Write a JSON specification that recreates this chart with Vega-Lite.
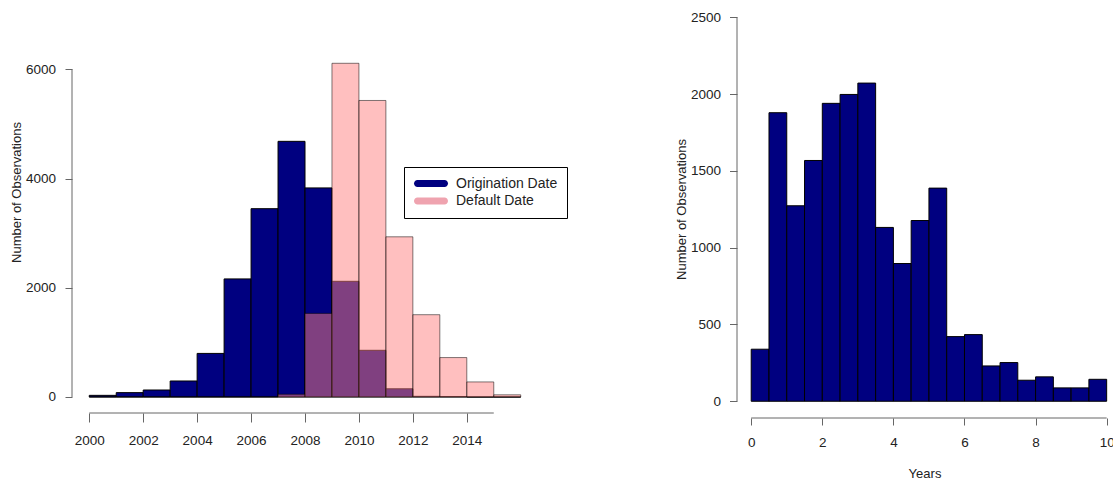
{
  "$schema": "https://vega.github.io/schema/vega-lite/v6.json",
  "padding": {"left": 10, "top": 2, "right": 0, "bottom": 0},
  "background": "white",
  "spacing": 199,
  "bounds": "flush",
  "config": {
    "view": {"stroke": null},
    "axis": {
      "grid": false,
      "domain": false,
      "labelFont": "Liberation Sans",
      "labelFontSize": 13.5,
      "labelColor": "#222222",
      "tickColor": "#666666",
      "titleFont": "Liberation Sans",
      "titleFontSize": 13,
      "titleFontWeight": "normal",
      "titleColor": "#222222",
      "labelFlush": false,
      "labelOverlap": false
    }
  },
  "resolve": {"scale": {"x": "independent", "y": "independent", "color": "independent"}},
  "datasets": {
    "dates": [
      {"series": "Origination Date", "start": 2000, "end": 2001, "count": 30},
      {"series": "Origination Date", "start": 2001, "end": 2002, "count": 80},
      {"series": "Origination Date", "start": 2002, "end": 2003, "count": 128},
      {"series": "Origination Date", "start": 2003, "end": 2004, "count": 293},
      {"series": "Origination Date", "start": 2004, "end": 2005, "count": 798},
      {"series": "Origination Date", "start": 2005, "end": 2006, "count": 2162},
      {"series": "Origination Date", "start": 2006, "end": 2007, "count": 3448},
      {"series": "Origination Date", "start": 2007, "end": 2008, "count": 4681},
      {"series": "Origination Date", "start": 2008, "end": 2009, "count": 3828},
      {"series": "Origination Date", "start": 2009, "end": 2010, "count": 2118},
      {"series": "Origination Date", "start": 2010, "end": 2011, "count": 855},
      {"series": "Origination Date", "start": 2011, "end": 2012, "count": 150},
      {"series": "Origination Date", "start": 2012, "end": 2013, "count": 12},
      {"series": "Origination Date", "start": 2013, "end": 2014, "count": 8},
      {"series": "Origination Date", "start": 2014, "end": 2015, "count": 0},
      {"series": "Origination Date", "start": 2015, "end": 2016, "count": 0},
      {"series": "Default Date", "start": 2000, "end": 2001, "count": 0},
      {"series": "Default Date", "start": 2001, "end": 2002, "count": 0},
      {"series": "Default Date", "start": 2002, "end": 2003, "count": 0},
      {"series": "Default Date", "start": 2003, "end": 2004, "count": 0},
      {"series": "Default Date", "start": 2004, "end": 2005, "count": 0},
      {"series": "Default Date", "start": 2005, "end": 2006, "count": 0},
      {"series": "Default Date", "start": 2006, "end": 2007, "count": 0},
      {"series": "Default Date", "start": 2007, "end": 2008, "count": 50},
      {"series": "Default Date", "start": 2008, "end": 2009, "count": 1531},
      {"series": "Default Date", "start": 2009, "end": 2010, "count": 6110},
      {"series": "Default Date", "start": 2010, "end": 2011, "count": 5429},
      {"series": "Default Date", "start": 2011, "end": 2012, "count": 2933},
      {"series": "Default Date", "start": 2012, "end": 2013, "count": 1507},
      {"series": "Default Date", "start": 2013, "end": 2014, "count": 722},
      {"series": "Default Date", "start": 2014, "end": 2015, "count": 276},
      {"series": "Default Date", "start": 2015, "end": 2016, "count": 40}
    ],
    "years": [
      {"start": 0, "end": 0.5, "count": 339},
      {"start": 0.5, "end": 1, "count": 1879},
      {"start": 1, "end": 1.5, "count": 1273},
      {"start": 1.5, "end": 2, "count": 1568},
      {"start": 2, "end": 2.5, "count": 1940},
      {"start": 2.5, "end": 3, "count": 1998},
      {"start": 3, "end": 3.5, "count": 2072},
      {"start": 3.5, "end": 4, "count": 1132},
      {"start": 4, "end": 4.5, "count": 897},
      {"start": 4.5, "end": 5, "count": 1177},
      {"start": 5, "end": 5.5, "count": 1388},
      {"start": 5.5, "end": 6, "count": 421},
      {"start": 6, "end": 6.5, "count": 434},
      {"start": 6.5, "end": 7, "count": 230},
      {"start": 7, "end": 7.5, "count": 252},
      {"start": 7.5, "end": 8, "count": 137},
      {"start": 8, "end": 8.5, "count": 159},
      {"start": 8.5, "end": 9, "count": 87},
      {"start": 9, "end": 9.5, "count": 87},
      {"start": 9.5, "end": 10, "count": 143}
    ]
  },
  "hconcat": [
    {
      "width": 466,
      "height": 411,
      "layer": [
        {
          "data": {"name": "dates"},
          "transform": [{"filter": "datum.series === 'Origination Date'"}],
          "mark": {"type": "rect", "fill": "#000080", "stroke": "#000000", "strokeWidth": 1},
          "encoding": {
            "x": {"field": "start", "type": "quantitative",
              "scale": {"domain": [1999.36, 2016.64], "nice": false, "zero": false},
              "axis": {"values": [2000, 2001, 2002, 2003, 2004, 2005, 2006, 2007, 2008, 2009, 2010, 2011, 2012, 2013, 2014, 2015],
                "labelExpr": "datum.value % 2 === 0 ? format(datum.value, 'd') : ''",
                "format": "d", "title": null, "tickSize": 9, "labelPadding": 11}},
            "x2": {"field": "end"},
            "y": {"field": "count", "type": "quantitative",
              "scale": {"domain": [-293, 7232], "nice": false, "zero": false},
              "axis": {"values": [0, 2000, 4000, 6000], "format": "d", "tickSize": 7, "labelPadding": 9.5,
                "title": "Number of Observations", "titleX": -56, "titleY": 190, "titleBaseline": "middle", "titleAlign": "center", "titleAngle": -90}},
            "y2": {"datum": 0}
          }
        },
        {
          "data": {"name": "dates"},
          "transform": [{"filter": "datum.series === 'Default Date'"}],
          "mark": {"type": "rect", "fill": "#FF8080", "fillOpacity": 0.5, "stroke": "#000000", "strokeOpacity": 0.5, "strokeWidth": 1},
          "encoding": {
            "x": {"field": "start", "type": "quantitative"},
            "x2": {"field": "end"},
            "y": {"field": "count", "type": "quantitative"},
            "y2": {"datum": 0}
          }
        },
        {
          "data": {"values": [{}]},
          "mark": {"type": "rule", "color": "#666666", "strokeWidth": 1},
          "encoding": {
            "x": {"datum": 1999.36, "type": "quantitative"},
            "y": {"datum": 0, "type": "quantitative"},
            "y2": {"datum": 6000}
          }
        },
        {
          "data": {"values": [{}]},
          "mark": {"type": "rule", "color": "#666666", "strokeWidth": 1},
          "encoding": {
            "x": {"datum": 2000, "type": "quantitative"},
            "x2": {"datum": 2015},
            "y": {"datum": -293, "type": "quantitative"}
          }
        },
        {
          "data": {"name": "dates"},
          "mark": {"type": "point", "opacity": 0, "filled": true},
          "encoding": {
            "x": {"field": "start", "type": "quantitative"},
            "y": {"field": "count", "type": "quantitative"},
            "color": {"field": "series", "type": "nominal",
              "scale": {"domain": ["Origination Date", "Default Date"], "range": ["#000080", "#EFA3AF"]},
              "legend": {
                "orient": "none", "legendX": 332, "legendY": 165, "title": null,
                "symbolType": "M-0.625,-0.875L6.125,-0.875A0.875,0.875 0 0 1 6.125,0.875L-0.625,0.875A0.875,0.875 0 0 1 -0.625,-0.875Z",
                "symbolSize": 64, "symbolStrokeWidth": 0, "symbolOpacity": 1,
                "labelFont": "Liberation Sans", "labelFontSize": 14, "labelColor": "#222222",
                "strokeColor": "#000000", "padding": 9, "rowPadding": 2.4, "labelOffset": 29, "clipHeight": 15
              }}
          }
        }
      ]
    },
    {
      "width": 375,
      "height": 416,
      "layer": [
        {
          "data": {"name": "years"},
          "mark": {"type": "rect", "fill": "#000080", "stroke": "#000000", "strokeWidth": 1},
          "encoding": {
            "x": {"field": "start", "type": "quantitative",
              "scale": {"domain": [-0.4, 10.15], "nice": false, "zero": false},
              "axis": {"values": [0, 2, 4, 6, 8, 10], "format": "d", "tickSize": 7, "labelPadding": 10,
                "title": "Years", "titleY": 55, "titleBaseline": "middle"}},
            "x2": {"field": "end"},
            "y": {"field": "count", "type": "quantitative",
              "scale": {"domain": [-109, 2600], "nice": false, "zero": false},
              "axis": {"values": [0, 500, 1000, 1500, 2000, 2500], "format": "d", "tickSize": 7.5, "labelPadding": 9,
                "title": "Number of Observations", "titleX": -55.3, "titleY": 207, "titleBaseline": "middle", "titleAlign": "center", "titleAngle": -90}},
            "y2": {"datum": 0}
          }
        },
        {
          "data": {"values": [{}]},
          "mark": {"type": "rule", "color": "#666666", "strokeWidth": 1},
          "encoding": {
            "x": {"datum": -0.4, "type": "quantitative"},
            "y": {"datum": 0, "type": "quantitative"},
            "y2": {"datum": 2500}
          }
        },
        {
          "data": {"values": [{}]},
          "mark": {"type": "rule", "color": "#666666", "strokeWidth": 1},
          "encoding": {
            "x": {"datum": 0, "type": "quantitative"},
            "x2": {"datum": 10},
            "y": {"datum": -109, "type": "quantitative"}
          }
        }
      ]
    }
  ]
}
